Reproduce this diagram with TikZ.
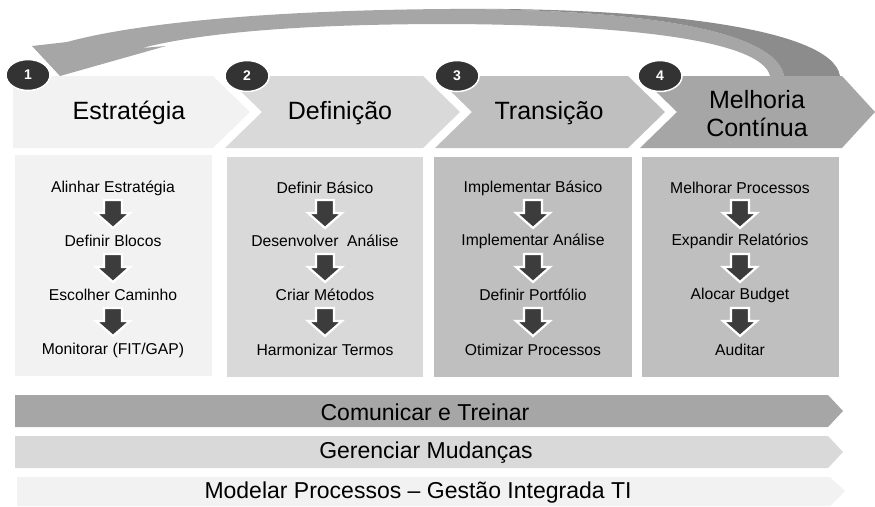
\documentclass[tikz,border=0pt]{standalone}
\usepackage{fontspec}
\setmainfont{Liberation Sans}
\usetikzlibrary{shapes.geometric}
\definecolor{cA}{HTML}{F2F2F2}
\definecolor{cB}{HTML}{D9D9D9}
\definecolor{cC}{HTML}{BFBFBF}
\definecolor{cD}{HTML}{A6A6A6}
\definecolor{ribL}{HTML}{A6A6A6}
\definecolor{ribD}{HTML}{8C8C8C}
\definecolor{numdark}{HTML}{333333}
\definecolor{arrdark}{HTML}{3C3C3C}
\tikzset{
  head/.style={font=\fontsize{25}{28}\selectfont, align=center, text=black, inner sep=0pt},
  item/.style={font=\fontsize{15.7}{18}\selectfont, inner sep=0pt},
  bartxt/.style={font=\fontsize{23}{26}\selectfont, inner sep=0pt},
  num/.style={ellipse, fill=numdark, draw=white, line width=1.5pt, minimum width=44pt, minimum height=31pt, inner sep=0pt, text=white, font=\fontsize{14}{16}\selectfont\bfseries},
  downarr/.pic={\filldraw[fill=arrdark, draw=white, line width=2.2pt, line join=miter] (-9,-14) -- (9,-14) -- (9,-1) -- (17,-1) -- (0,14) -- (-17,-1) -- (-9,-1) -- cycle;}
}
\begin{document}
\begin{tikzpicture}[x=1pt,y=-1pt]
\useasboundingbox (0,0) rectangle (875,506);
% curved return arrow
\fill[ribL] (60,76) -- (32,46) -- (67,42) .. controls (140,22) and (280,10) .. (450,9) .. controls (640,9) and (776,30) .. (784,76) -- (770,76) .. controls (762,42) and (640,25) .. (450,24) .. controls (300,24) and (200,33) .. (142,48) -- (166,46) -- cycle;
\fill[ribD] (450,9) .. controls (640,7) and (832,26) .. (840,76) -- (784,76) .. controls (776,30) and (640,9) .. (450,9) -- cycle;
% chevrons
\fill[cA] (13,76) -- (213,76) -- (250,112) -- (213,148) -- (13,148) -- cycle;
\fill[cB] (225,76) -- (423,76) -- (460,112) -- (423,148) -- (225,148) -- (262,112) -- cycle;
\fill[cC] (435,76) -- (628,76) -- (665,112) -- (628,148) -- (435,148) -- (472,112) -- cycle;
\fill[cD] (640,76) -- (842,76) -- (875,112) -- (842,148) -- (640,148) -- (677,112) -- cycle;
\node[head] (h1) at (129,113) {Estratégia};
\node[head] (h2) at (340,113) {Definição};
\node[head] (h3) at (549,113) {Transição};
\node[head] (h4) at (757,114) {Melhoria\\Contínua};
% numbers
\node[num] (n1) at (28,75) {1};
\node[num] (n2) at (247,76) {2};
\node[num] (n3) at (457,76) {3};
\node[num] (n4) at (660,76) {4};
% boxes
\fill[cA] (15,155) rectangle (212,376);
\fill[cB] (227,157) rectangle (423,377);
\fill[cC] (434,157) rectangle (632,377);
\fill[cC] (642,157) rectangle (839,377);
% column 1
\node[item] (a1) at (113,188) {Alinhar Estratégia};
\node[item] (a2) at (113,241) {Definir Blocos};
\node[item] (a3) at (113,295) {Escolher Caminho};
\node[item] (a4) at (113,350) {Monitorar (FIT/GAP)};
% column 2
\node[item] (b1) at (325,188) {Definir Básico};
\node[item] (b2) at (325,241) {Desenvolver\ \ Análise};
\node[item] (b3) at (325,295) {Criar Métodos};
\node[item] (b4) at (325,350) {Harmonizar Termos};
% column 3
\node[item] (c1) at (533,188) {Implementar Básico};
\node[item] (c2) at (533,241) {Implementar Análise};
\node[item] (c3) at (533,295) {Definir Portfólio};
\node[item] (c4) at (533,350) {Otimizar Processos};
% column 4
\node[item] (d1) at (740,188) {Melhorar Processos};
\node[item] (d2) at (740,241) {Expandir Relatórios};
\node[item] (d3) at (740,295) {Alocar Budget};
\node[item] (d4) at (740,350) {Auditar};
% down arrows
\foreach \cx in {113,325,533,740}{
  \pic at (\cx,214) {downarr};
  \pic at (\cx,268) {downarr};
  \pic at (\cx,322) {downarr};
}
% bottom bars
\fill[cD] (15,395) -- (828,395) -- (843,411) -- (828,427) -- (15,427) -- cycle;
\fill[cB] (15,436) -- (828,436) -- (843,452) -- (828,468) -- (15,468) -- cycle;
\fill[cA] (17,477) -- (830,477) -- (845,491) -- (830,506) -- (17,506) -- cycle;
\node[bartxt] (t1) at (425,412) {Comunicar e Treinar};
\node[bartxt] (t2) at (426,453) {Gerenciar Mudanças};
\node[bartxt] (t3) at (418,493) {Modelar Processos – Gestão Integrada TI};
\end{tikzpicture}
\end{document}
